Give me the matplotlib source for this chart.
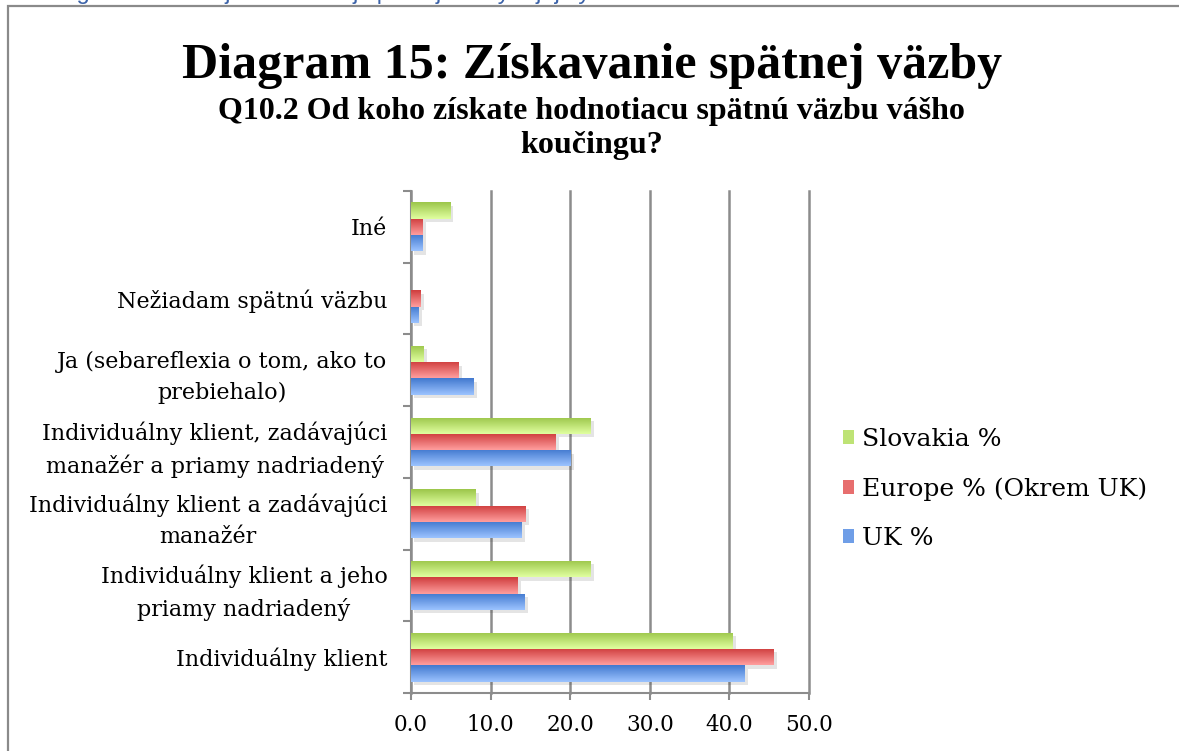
import matplotlib

matplotlib.use("Agg")
import matplotlib.pyplot as plt
import numpy as np
from matplotlib.colors import LinearSegmentedColormap
from matplotlib.patches import Patch, Rectangle
from matplotlib import patheffects as pe

# categories bottom -> top (as drawn on the y axis)
categories = [
    "Individuálny klient",
    "Individuálny klient a jeho\npriamy nadriadený",
    "Individuálny klient a zadávajúci\nmanažér",
    "Individuálny klient, zadávajúci\nmanažér a priamy nadriadený",
    "Ja (sebareflexia o tom, ako to\nprebiehalo)",
    "Nežiadam spätnú väzbu",
    "Iné",
]
uk = [41.9, 14.3, 13.9, 20.0, 7.9, 0.9, 1.5]
europe = [45.5, 13.4, 14.4, 18.2, 6.0, 1.25, 1.4]
slovakia = [40.4, 22.6, 8.1, 22.6, 1.6, 0.0, 4.9]
xticks = [0, 10, 20, 30, 40, 50]

SERIES = [
    # label, values, top colour, bottom colour, offset in group
    ("UK %", uk, "#9cc3ff", "#4279cf", -1),
    ("Europe % (Okrem UK)", europe, "#ff9e9e", "#cf3d3d", 0),
    ("Slovakia %", slovakia, "#e0ffa0", "#9cc64a", 1),
]
BAR_H = 0.227
SERIF = "DejaVu Serif"
TITLE_FONT = "Liberation Serif"
GRID = "#8c8c8c"

fig = plt.figure(figsize=(11.79, 7.51), dpi=100)
ax = fig.add_axes([0.3486, 0.0772, 0.3376, 0.6685])

y = np.arange(len(categories))
grad = np.linspace(0, 1, 64).reshape(-1, 1)
handles = []
for label, vals, top, bottom, off in SERIES:
    mid = tuple((np.array(matplotlib.colors.to_rgb(top)) +
                 np.array(matplotlib.colors.to_rgb(bottom))) / 2)
    bars = ax.barh(y + off * BAR_H, vals, height=BAR_H, color=mid, lw=0,
                   zorder=3)
    cmap = LinearSegmentedColormap.from_list("g", [top, bottom])
    for b in bars:
        b.set_path_effects([pe.SimplePatchShadow(offset=(2.5, -2.5), alpha=0.13,
                                                 shadow_rgbFace="#333333"),
                            pe.Normal()])
        if b.get_width() <= 0:
            continue
        x0, y0 = b.get_xy()
        im = ax.imshow(grad, extent=[x0, x0 + b.get_width(), y0 + b.get_height(), y0],
                       aspect="auto", cmap=cmap, zorder=4, interpolation="bilinear")
        im.set_clip_path(b)
    handles.append(Patch(facecolor=mid, edgecolor="none", label=label))

ax.set_xlim(0, 50)
ax.set_ylim(-0.5, len(categories) - 0.5)
ax.set_xticks(xticks)
ax.set_xticklabels([f"{v:.1f}" for v in xticks], fontsize=15.5, family=SERIF)
ax.set_yticks(y)
ax.set_yticklabels(categories, fontsize=16, family=SERIF, ha="right",
                   multialignment="center", linespacing=1.55)
ax.set_yticks(np.arange(-0.5, len(categories)), minor=True)
ax.tick_params(axis="y", which="major", length=0, pad=17)
ax.tick_params(axis="y", which="minor", length=6, width=1.5, color=GRID)
ax.tick_params(axis="x", length=5, width=1.5, color=GRID, pad=10)

ax.xaxis.grid(True, color=GRID, lw=1.8)
for gl in ax.xaxis.get_gridlines():
    gl.set_clip_on(False)
ax.set_axisbelow(True)
for side in ("top", "right"):
    ax.spines[side].set_visible(False)
for side in ("left", "bottom"):
    ax.spines[side].set_color(GRID)
    ax.spines[side].set_linewidth(1.5)

leg = fig.legend(handles=handles[::-1], loc="upper left",
                 bbox_to_anchor=(0.696, 0.46), frameon=False,
                 prop={"family": SERIF, "size": 18},
                 handlelength=0.45, handleheight=0.5, handletextpad=0.3,
                 labelspacing=1.05)

fig.text(0.502, 0.912, "Diagram 15: Získavanie spätnej väzby", ha="center",
         va="center", fontsize=36, fontweight="bold", family=TITLE_FONT)
fig.text(0.502, 0.829, "Q10.2 Od koho získate hodnotiacu spätnú väzbu vášho\nkoučingu?",
         ha="center", va="center", fontsize=23, fontweight="bold", family=TITLE_FONT,
         linespacing=1.25)

# caption above the chart box, cut off by the top edge as in the source
fig.text(0.035, 1 + 1.5 / 751, "Diagram 15: Zdroj hodnotiacej spätnej väzby a jej využitie",
         ha="left", va="baseline", fontsize=17, color="#3b62a8",
         family="Liberation Sans")

fig.add_artist(Rectangle((8 / 1179, -0.05), 1.2, 1.05 - 6 / 751,
                         transform=fig.transFigure, fill=False,
                         edgecolor="#8a8a8a", lw=1.6))

fig.savefig("out.png", dpi=100)
